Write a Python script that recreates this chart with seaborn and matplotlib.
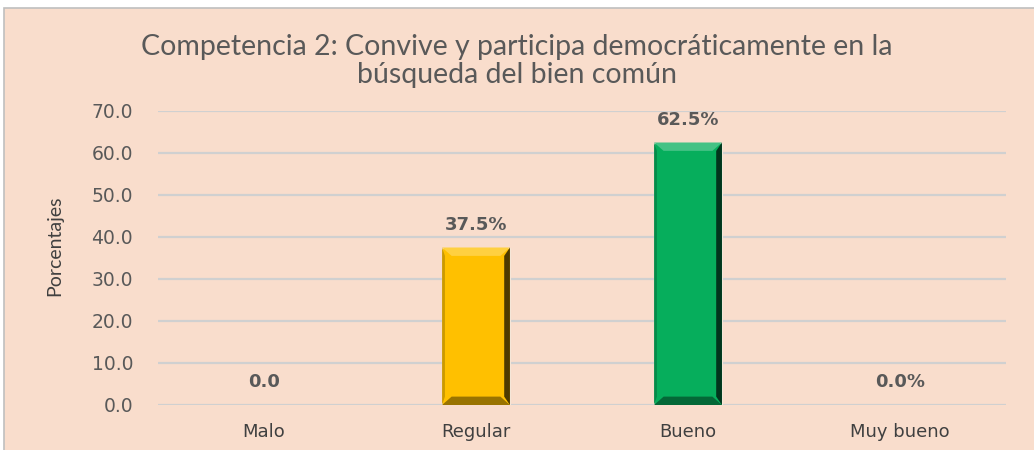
import matplotlib
matplotlib.use("Agg")
import matplotlib.pyplot as plt
import seaborn as sns
import pandas as pd
from matplotlib.patches import Rectangle, Polygon
from matplotlib.colors import to_rgb

categories = ["Malo", "Regular", "Bueno", "Muy bueno"]
values = [0.0, 37.5, 62.5, 0.0]
labels = ["0.0", "37.5%", "62.5%", "0.0%"]
yticks = [0, 10, 20, 30, 40, 50, 60, 70]
colors = ["#C00000", "#FFC000", "#06AE5C", "#0070C0"]

sns.set_theme(style="white")
plt.rcParams['font.family'] = ['Lato', 'DejaVu Sans']

bg = "#F9DDCC"
txt = "#595959"
fig = plt.figure(figsize=(10.34, 4.5), dpi=100, facecolor="white")
fig.patches.append(Rectangle((4/1034, -0.01), 1.01, 1 - 8/450 + 0.01, transform=fig.transFigure,
                             facecolor=bg, edgecolor="#BFBFBF", linewidth=1.2, zorder=-5))
ax = fig.add_axes([158/1034, 0.1, (1006-158)/1034, (405-111)/450])
ax.set_facecolor(bg)
ax.patch.set_alpha(0)

df = pd.DataFrame({"cat": categories, "val": values})
sns.barplot(data=df, x="cat", y="val", hue="cat", palette=colors, width=0.32,
            legend=False, ax=ax, zorder=3, saturation=1)


def shade(c, f):
    r, g, b = to_rgb(c)
    if f < 1:
        return (r * f, g * f, b * f)
    f = f - 1
    return (r + (1 - r) * f, g + (1 - g) * f, b + (1 - b) * f)


for p, c in zip(ax.patches, colors):
    x, y, w, h = p.get_x(), p.get_y(), p.get_width(), p.get_height()
    if h <= 0:
        p.set_visible(False)
        continue
    p.set_edgecolor("#F5E6D8")
    p.set_linewidth(0.8)
    bx, by = 0.045, 2.0
    top = Polygon([(x, y + h), (x + w, y + h), (x + w - bx, y + h - by), (x + bx, y + h - by)],
                  facecolor=shade(c, 1.25), edgecolor="none", zorder=4)
    bot = Polygon([(x, y), (x + w, y), (x + w - bx, y + by), (x + bx, y + by)],
                  facecolor=shade(c, 0.6), edgecolor="none", zorder=4)
    right = Polygon([(x + w, y), (x + w, y + h), (x + w - bx * 0.6, y + h - by), (x + w - bx * 0.6, y + by)],
                    facecolor=shade(c, 0.3), edgecolor="none", zorder=4)
    left = Polygon([(x, y), (x, y + h), (x + bx * 0.3, y + h - by), (x + bx * 0.3, y + by)],
                   facecolor=shade(c, 0.8), edgecolor="none", zorder=4)
    for poly in (top, bot, right, left):
        ax.add_patch(poly)

ax.set_ylim(0, 70)
ax.set_yticks(yticks)
ax.set_yticklabels([f"{t:.1f}" for t in yticks], color=txt, fontsize=13.5,
                   family=["DejaVu Sans"])
ax.tick_params(axis="y", pad=18, length=0)
ax.set_xticks(range(len(categories)))
ax.set_xticklabels(categories, family=["DejaVu Sans"], fontsize=13, color="#404040")
ax.tick_params(axis="x", length=0, pad=13)
ax.yaxis.grid(True, color="#D0D0D0", linewidth=1.6, zorder=0)
ax.set_axisbelow(True)
for s in ax.spines.values():
    s.set_visible(False)
ax.set_xlabel("")
ax.set_ylabel("Porcentajes", fontsize=14, color="#404040")
ax.yaxis.set_label_coords(-0.112, 0.54)

for i, (v, lab) in enumerate(zip(values, labels)):
    ax.annotate(lab, (i, v), xytext=(0, 10), textcoords="offset points",
                ha="center", va="bottom", fontsize=13, fontweight="bold", color=txt,
                family=["DejaVu Sans"])

fig.text(0.5, 0.865, "Competencia 2: Convive y participa democráticamente en la\nbúsqueda del bien común",
         ha="center", va="center", fontsize=20.5, color=txt, linespacing=1.1)

fig.savefig("out.png", dpi=100, facecolor=fig.get_facecolor())
